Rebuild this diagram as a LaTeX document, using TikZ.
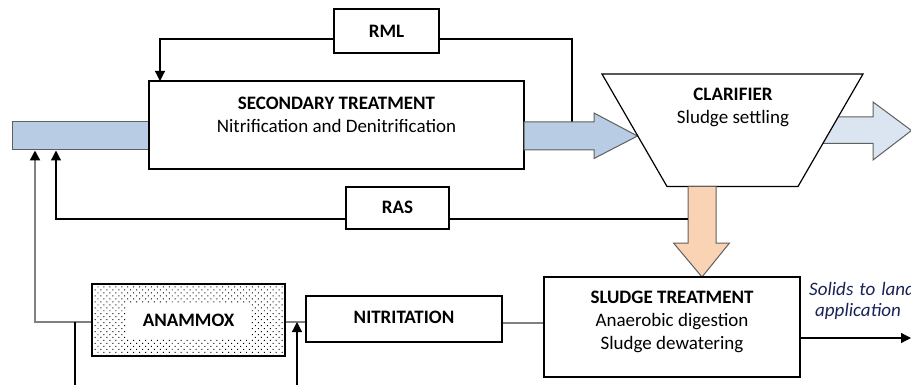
\documentclass[tikz,border=0pt]{standalone}
\usepackage{fontspec}
\setmainfont{Carlito}
\usetikzlibrary{arrows.meta,patterns.meta}
\definecolor{inblue}{RGB}{184,204,228}
\definecolor{outblue}{RGB}{219,229,241}
\definecolor{peach}{RGB}{250,211,180}
\definecolor{edgeg}{RGB}{95,95,95}
\definecolor{greyline}{RGB}{128,128,128}
\definecolor{navytext}{RGB}{25,35,85}
\tikzset{
  box/.style={draw=black, line width=1.3pt, fill=white, inner sep=0pt},
  lbl/.style={font=\fontsize{19}{23}\selectfont, align=center, inner sep=0pt},
  thinline/.style={draw=black, line width=1.2pt},
  greyconn/.style={draw=greyline, line width=2.2pt},
  tipend/.style={-{Triangle[length=10pt,width=10pt,color=black]}},
  blockarrow/.style={draw=edgeg, line width=1pt, line join=miter}
}
\begin{document}
\begin{tikzpicture}[x=1pt,y=-1pt]
\useasboundingbox (0,0) rectangle (911,385);
\clip (0,0) rectangle (911,385);

% input bar
\draw[blockarrow, fill=inblue] (12,122) rectangle (150,150);

% secondary treatment
\node[box, minimum width=375pt, minimum height=88pt] (sec) at (336.5,125) {};
\node[lbl] (sectxt) at (336.5,114.5) {\textbf{SECONDARY TREATMENT}\\Nitrification and Denitrification};

% RML
\node[box, minimum width=105pt, minimum height=44pt] (rml) at (386.5,31) {};
\node[lbl] (rmltxt) at (386.5,31.5) {\textbf{RML}};
\coordinate (rmlin) at (160,81);
\coordinate (rmlout) at (572,122);
\draw[thinline, tipend] ([yshift=-8pt]rml.west) -| (rmlin);
\draw[thinline] (rmlout) |- ([yshift=-8pt]rml.east);

% blue arrow to clarifier
\draw[blockarrow, fill=inblue] (524,122) -- (594,122) -- (594,113) -- (637.5,136) -- (594,158.5) -- (594,150) -- (524,150) -- cycle;

% outgoing light blue arrow
\draw[blockarrow, fill=outblue] (815,117) -- (873,117) -- (873,102) -- (911.5,130.5) -- (873,160) -- (873,143.5) -- (815,143.5) -- cycle;

% clarifier
\draw[line width=1.2pt, fill=white] (602,74) -- (863,74) -- (798,186.5) -- (667,186.5) -- cycle;
\node[lbl] (clar) at (733,107.5) {\textbf{CLARIFIER}\\Sludge settling};

% sludge arrow
\draw[blockarrow, fill=peach] (688,186.5) -- (716,186.5) -- (716,243) -- (729.5,243) -- (702,277) -- (673.5,243) -- (688,243) -- cycle;

% RAS
\node[box, minimum width=103pt, minimum height=42pt] (ras) at (397.5,208) {};
\node[lbl] (rastxt) at (397.5,207) {\textbf{RAS}};
\coordinate (rasend) at (688,219);
\coordinate (rasin) at (56,150.5);
\draw[thinline] (rasend) -- ([yshift=-11pt]ras.east);
\draw[thinline, tipend] ([yshift=-11pt]ras.west) -| (rasin);

% anammox
\node[draw=black, line width=1.3pt, pattern={Dots[distance=4.2pt,radius=0.7pt,angle=45]}, pattern color=black, minimum width=193pt, minimum height=72pt, inner sep=0pt] (anam) at (188.5,320) {};
\node[fill=white, minimum width=123pt, minimum height=35pt, inner sep=0pt, font=\fontsize{19}{23}\selectfont] (anamtxt) at (188.5,320.5) {\textbf{ANAMMOX}};

% nitritation
\node[box, minimum width=196pt, minimum height=46pt] (nitr) at (404,319) {};
\node[lbl] (nitrtxt) at (404,317) {\textbf{NITRITATION}};

% sludge treatment
\node[box, minimum width=256pt, minimum height=100pt] (sludge) at (672,327) {};
\node[lbl] (sludgetxt) at (672,321.5) {\textbf{SLUDGE TREATMENT}\\Anaerobic digestion\\Sludge dewatering};

% grey connectors
\coordinate (anin) at (35,150.5);
\coordinate (j1) at (75,322);
\coordinate (b1) at (75,386);
\coordinate (j2) at (297,322);
\coordinate (b2) at (297,386);
\draw[greyconn, tipend] (anam.west |- j1) -| (anin);
\draw[greyconn] (anam.east |- j2) -- (nitr.west |- j2);
\draw[greyconn] (nitr.east |- 0,323) -- (sludge.west |- 0,323);
\draw[thinline] (j1) -- (b1);
\draw[thinline, tipend] (b2) -- (j2);

% output
\coordinate (outend) at (911,338);
\draw[thinline, tipend] (sludge.east |- outend) -- (outend);
\node[font=\fontsize{19}{21}\selectfont\itshape, text=navytext, align=left, anchor=west, inner sep=0pt] (solids) at (809,301) {Solids\hspace{6pt}to\hspace{6pt}land\\\hspace{6pt}application};
\end{tikzpicture}
\end{document}
